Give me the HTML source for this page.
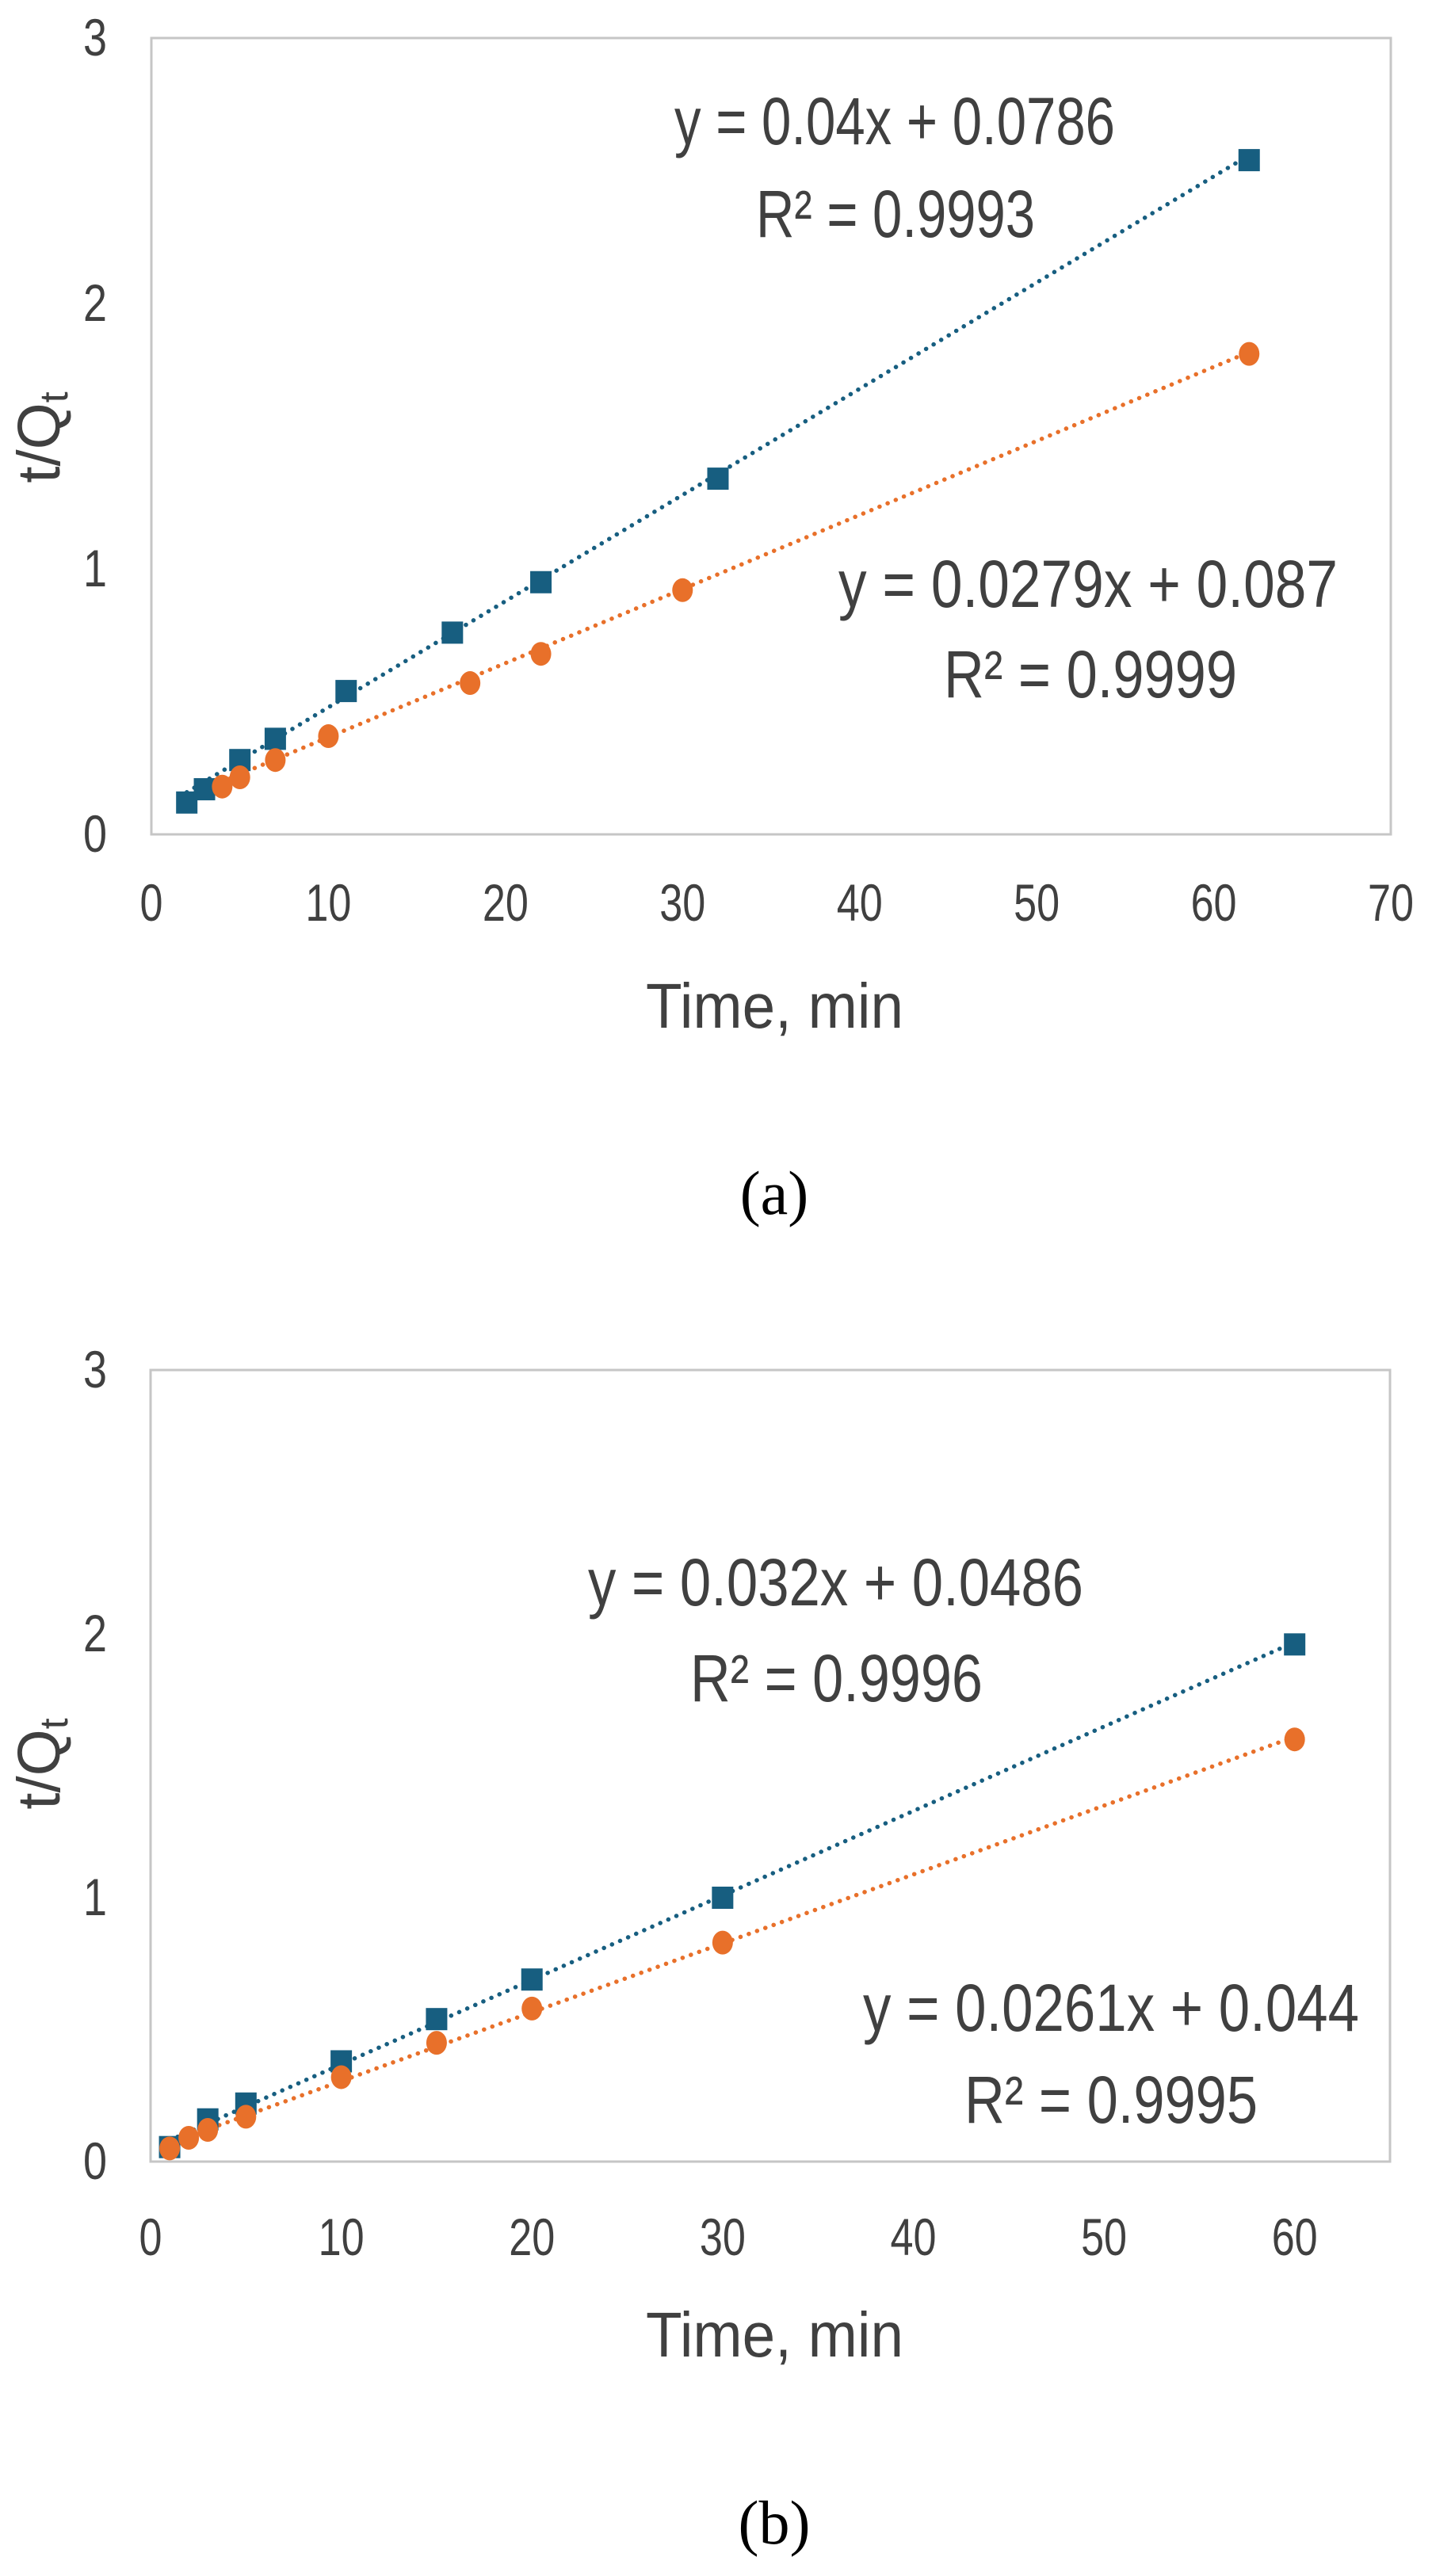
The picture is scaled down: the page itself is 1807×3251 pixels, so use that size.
<!DOCTYPE html>
<html><head><meta charset="utf-8"><style>
html,body{margin:0;padding:0;background:#fff;}
svg{display:block;}
text{font-family:"Liberation Sans",sans-serif;fill:#404040;}
</style></head><body>
<svg id="fig" width="1807" height="3251" viewBox="0 0 1807 3251" xmlns="http://www.w3.org/2000/svg"></svg>
<script>
// ---- Chart (a) data ----
const aBlueX = [2,3,5,7,11,17,22,32,62];
const aBlueY = [0.12,0.17,0.28,0.36,0.54,0.76,0.95,1.34,2.54];
const aOrangeX = [4,5,7,10,18,22,30,62];
const aOrangeY = [0.18,0.215,0.28,0.37,0.57,0.68,0.92,1.81];
const aFit = [0.04,0.0786,0.0279,0.087];
const aXTicks = [0,10,20,30,40,50,60,70];
const aYTicks = [0,1,2,3];
const aEq = ["y = 0.04x + 0.0786","R² = 0.9993","y = 0.0279x + 0.087","R² = 0.9999"];
// ---- Chart (b) data ----
const bBlueX = [1,3,5,10,15,20,30,60];
const bBlueY = [0.055,0.16,0.22,0.38,0.54,0.69,1.00,1.96];
const bOrangeX = [1,2,3,5,10,15,20,30,60];
const bOrangeY = [0.05,0.09,0.12,0.17,0.32,0.45,0.58,0.83,1.60];
const bFit = [0.032,0.0486,0.0261,0.044];
const bXTicks = [0,10,20,30,40,50,60];
const bYTicks = [0,1,2,3];
const bEq = ["y = 0.032x + 0.0486","R² = 0.9996","y = 0.0261x + 0.044","R² = 0.9995"];

const NS="http://www.w3.org/2000/svg";
const svg=document.getElementById('fig');
function mk(tag,attrs,parent){const e=document.createElementNS(NS,tag);for(const k in attrs)e.setAttribute(k,attrs[k]);(parent||svg).appendChild(e);return e;}
function txt(parent,x,y,s,size,anchor,len){const t=mk('text',{x:x,y:y,'font-size':size,'text-anchor':anchor||'middle'},parent);if(len){t.setAttribute('textLength',len);t.setAttribute('lengthAdjust','spacingAndGlyphs');}t.textContent=s;return t;}

function chart(cfg){
  const g=mk('g',{});
  
  
  const L=cfg.left,R=cfg.right,T=cfg.top,B=cfg.bottom;
  const xs=v=>L+(v-cfg.xmin)/(cfg.xmax-cfg.xmin)*(R-L);
  const ys=v=>B-(v-0)/(3-0)*(B-T);
  const box=mk('rect',{x:L,y:T,width:R-L,height:B-T,fill:'none',stroke:'#c6c6c6','stroke-width':3},g);
  
  
  cfg.xt.forEach(v=>{const t=txt(g,xs(v),cfg.xlabY,String(v),66,'middle',(String(v).length*29));
    
    });
  cfg.yt.forEach(v=>{const t=txt(g,120,ys(v)+22,String(v),66,'middle',30);
    
    });
  const series=[[cfg.bx,cfg.by,'#175e80','square',cfg.fit[0],cfg.fit[1]],[cfg.ox,cfg.oy,'#e8702a','circle',cfg.fit[2],cfg.fit[3]]];
  series.forEach((s,i)=>{
    const x0=s[0][0],x1=s[0][s[0].length-1];
    const ln=mk('line',{x1:xs(x0),y1:ys(s[4]*x0+s[5]),x2:xs(x1),y2:ys(s[4]*x1+s[5]),stroke:s[2],'stroke-width':5.5,'stroke-dasharray':'0.1 11','stroke-linecap':'round'},g);
    
    
  });
  series.forEach((s,i)=>{
    s[0].forEach((xv,j)=>{
      let m;
      if(s[3]==='square') m=mk('rect',{x:xs(xv)-13.5,y:ys(s[1][j])-14,width:27,height:28,fill:s[2]},g);
      else m=mk('ellipse',{cx:xs(xv),cy:ys(s[1][j]),rx:13,ry:15,fill:s[2]},g);
      
      
    });
  });
  cfg.eqPos.forEach((p,k)=>{const t=txt(g,p[0],p[1],cfg.eq[k],84,'start',p[2]);
    
    });
  const xt=txt(g,(815+1140)/2,cfg.xTitleY,'Time, min',80,'middle',325);
  
  
  const yt=mk('text',{x:0,y:0,'font-size':76,'text-anchor':'middle',transform:'translate(75,'+cfg.yTitleY+') rotate(-90)'},g);
  
  
  yt.appendChild(document.createTextNode('t/Q'));
  const sub=mk('tspan',{'font-size':50,dy:10},yt);sub.textContent='t';
  const cap=mk('text',{x:977,y:cfg.capY,'font-size':78,'text-anchor':'middle',style:'font-family:"Liberation Serif",serif;fill:#000'},g);
  
  
  cap.textContent=cfg.cap;
}
chart({name:'chart-a',left:191,right:1755,top:48,bottom:1053,xmin:0,xmax:70,xt:aXTicks,yt:aYTicks,xlabY:1162,
  bx:aBlueX,by:aBlueY,ox:aOrangeX,oy:aOrangeY,fit:aFit,eq:aEq,
  eqPos:[[851,182,556],[954,299,352],[1058,766,630],[1191,880,370]],xTitleY:1297,yTitleY:552,capY:1532,cap:'(a)'});
chart({name:'chart-b',left:190,right:1754,top:1729,bottom:2728,xmin:0,xmax:65,xt:bXTicks,yt:bYTicks,xlabY:2846,
  bx:bBlueX,by:bBlueY,ox:bOrangeX,oy:bOrangeY,fit:bFit,eq:bEq,
  eqPos:[[742,2026,625],[871,2147,369],[1089,2563,626],[1217,2679,370]],xTitleY:2974,yTitleY:2226,capY:3210,cap:'(b)'});
</script>
</body></html>
